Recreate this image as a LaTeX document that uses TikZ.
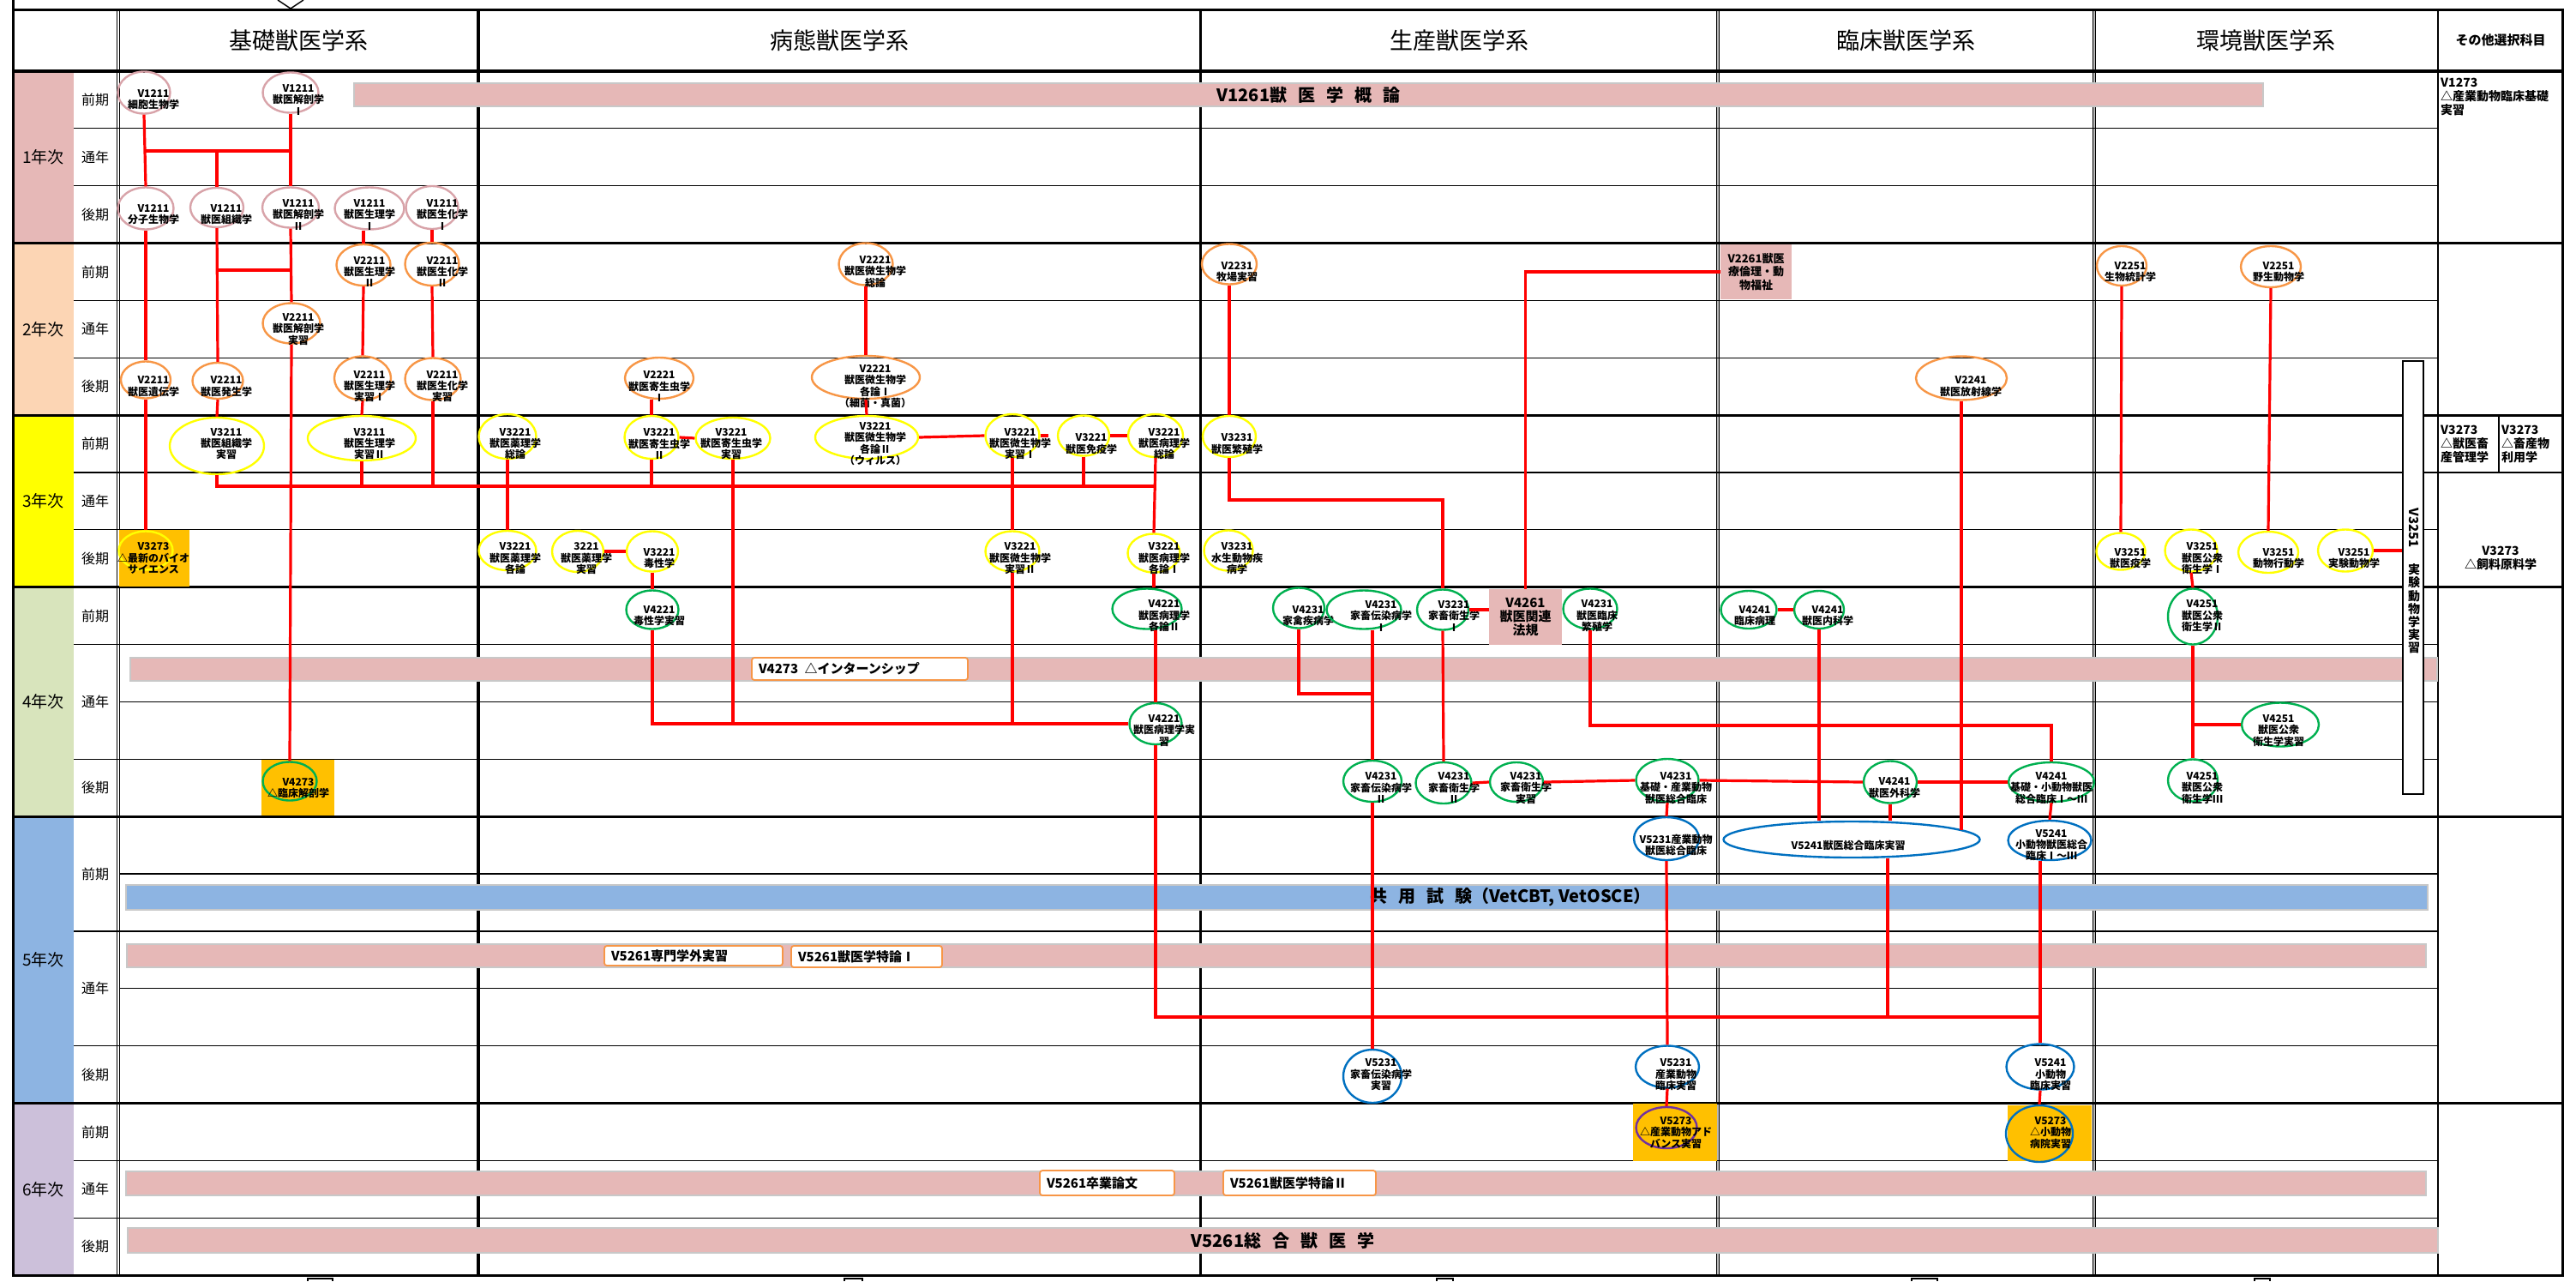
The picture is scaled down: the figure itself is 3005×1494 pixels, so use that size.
\documentclass[tikz,border=0pt]{standalone}
\usepackage{fontspec}
\setmainfont{Noto Sans CJK JP}
\usetikzlibrary{shapes.geometric}

\definecolor{barpink}{HTML}{E6B8B7}
\definecolor{barblue}{HTML}{8DB4E2}
\definecolor{barline}{HTML}{C8C8C8}
\definecolor{yr1}{HTML}{E6B8B7}
\definecolor{yr2}{HTML}{FCD5B4}
\definecolor{yr3}{HTML}{FFFF00}
\definecolor{yr4}{HTML}{D8E4BC}
\definecolor{yr5}{HTML}{8DB4E2}
\definecolor{yr6}{HTML}{CCC0DA}
\definecolor{gold}{HTML}{FFC000}
\definecolor{rosy}{HTML}{D8A3A9}
\definecolor{ora}{HTML}{F79646}
\definecolor{yel}{HTML}{FFFF00}
\definecolor{grn}{HTML}{00B050}
\definecolor{blu}{HTML}{0070C0}
\definecolor{pur}{HTML}{7030A0}

% one course: ring node, then its text centred in the cell
\newcommand{\course}[9]{%
  \node[#6, minimum width=#4, minimum height=#5] (#1) at (#2,#3) {};
  \node[ctext] (#1t) at (#7,#8) {#9};}
\newcommand{\wsp}{\hspace{0.65em}}

\begin{document}
\begin{tikzpicture}[x=1pt, y=-1pt,
  ring/.style={ellipse, draw, line width=2.4, inner sep=0},
  c1/.style={ring, draw=rosy},
  c2/.style={ring, draw=ora},
  c3/.style={ring, draw=yel},
  c4/.style={ring, draw=grn},
  c5/.style={ring, draw=blu},
  c6/.style={ring, draw=pur},
  ctext/.style={font=\fontsize{12}{13.4}\selectfont\bfseries, align=center, inner sep=0},
  link/.style={draw=red, line width=3.2},
  thinrule/.style={line width=1.2},
  thickrule/.style={line width=3.2},
  yearlbl/.style={font=\fontsize{19}{20}\selectfont, inner sep=0},
  semlbl/.style={font=\fontsize{16}{17}\selectfont, inner sep=0},
  headlbl/.style={font=\fontsize{27}{28}\selectfont, inner sep=0},
  bar/.style={fill=barpink, draw=barline, line width=1.2, inner sep=0,
    font=\fontsize{20}{22}\selectfont\bfseries},
  bartext/.style={font=\fontsize{20}{22}\selectfont\bfseries, inner sep=0},
  tag/.style={fill=white, draw=ora, line width=1.8, rounded corners=3,
    inner xsep=8, inner ysep=0, font=\fontsize{15}{16}\selectfont\bfseries},
  pinkbox/.style={fill=barpink, inner sep=0, align=center},
  goldbox/.style={fill=gold, inner sep=0},
  othertext/.style={font=\fontsize{14}{16}\selectfont\bfseries, align=left, inner sep=0}
]
\useasboundingbox (0,0) rectangle (3005,1494);

% year bands and labels
\foreach \a/\b/\c/\t [count=\i] in {0/3/yr1/1年次, 3/6/yr2/2年次, 6/9/yr3/3年次,
    9/13/yr4/4年次, 13/18/yr5/5年次, 18/21/yr6/6年次}{
  \fill[\c] (15,{83+66.86*\a}) rectangle (86,{83+66.86*\b});
  \node[yearlbl] (year\i) at (50.5,{83+33.43*(\a+\b)}) {\t};
}
\foreach \m/\t [count=\i] in {0.5/前期,1.5/通年,2.5/後期,3.5/前期,4.5/通年,5.5/後期,
    6.5/前期,7.5/通年,8.5/後期,9.5/前期,11/通年,12.5/後期,14/前期,16/通年,17.5/後期,
    18.5/前期,19.5/通年,20.5/後期}
  \node[semlbl] (sem\i) at (111,{83+66.86*\m}) {\t};

% column rules
\draw[line width=3.5] (558,11) -- (558,1487);
\draw[line width=3] (1400,11) -- (1400,1487);
\draw[line width=2.5] (2844,11) -- (2844,1487);
\draw[thinrule] (2915,484.6) -- (2915,551);
\foreach \x/\c in {138/white, 2004/gray!55, 2443/gray!55}{
  \draw[line width=4.2] (\x,11) -- (\x,1487);
  \draw[line width=1.8, \c] (\x,11) -- (\x,1487);
}
% row rules
\foreach \k in {1,2,4,5,8,10,12,15,17,19,20}
  \draw[thinrule] (86,{83+66.86*\k}) -- (2844,{83+66.86*\k});
\draw[thinrule] (86,{83+66.86*7}) -- (2989,{83+66.86*7});
\foreach \k in {11,14,16}
  \draw[thinrule] (139,{83+66.86*\k}) -- (2844,{83+66.86*\k});
\foreach \k in {0,3,6,9,13,18}
  \draw[thickrule] (15,{83+66.86*\k}) -- (2989,{83+66.86*\k});
\draw[line width=3] (15,0) -- (15,1487) -- (2989,1487) -- (2989,11) -- (15,11);
\draw[line width=1.5] (324,0) -- (339,10) -- (354,0);
\foreach \a/\b in {359/388, 985/1006, 1676/1695, 2230/2260, 2630/2648}
  \draw[line width=2] (\a,1494) |- (\b,1490.5) -- (\b,1494);

% headers
\node[headlbl] (h1) at (348,47) {基礎獣医学系};
\node[headlbl] (h2) at (979,47) {病態獣医学系};
\node[headlbl] (h3) at (1702,47) {生産獣医学系};
\node[headlbl] (h4) at (2223,47) {臨床獣医学系};
\node[headlbl] (h5) at (2643,47) {環境獣医学系};
\node[font=\fontsize{15}{16}\selectfont\bfseries, inner sep=0] (h6) at (2917,47) {その他選択科目};

% other electives
\node[othertext, anchor=north west] (o1) at (2847,91) {V1273\\△産業動物臨床基礎\\実習};
\node[othertext, anchor=west] (o2) at (2847,518) {V3273\\△獣医畜\\産管理学};
\node[othertext, anchor=west] (o3) at (2918,518) {V3273\\△畜産物\\利用学};
\node[othertext, align=center] (o4) at (2917,651) {V3273\\△飼料原料学};

% bars
\node[bar, minimum width=2227, minimum height=27] (bar1) at (1526.5,110.5)
  {V1261獣\wsp 医\wsp 学\wsp 概\wsp 論};
\node[bar, minimum width=2691, minimum height=27] (bar4) at (1497.5,780.5) {};
\node[bar, fill=barblue, minimum width=2685, minimum height=29] (bar5a) at (1489.5,1046.5) {};
\node[bartext] (bar5at) at (1762,1046) {共\wsp 用\wsp 試\wsp 験（VetCBT, VetOSCE）};
\node[bar, minimum width=2682, minimum height=27] (bar5b) at (1489,1114.5) {};
\node[bar, minimum width=2683, minimum height=28] (bar6a) at (1488.5,1380) {};
\node[bar, minimum width=2695, minimum height=29] (bar6b) at (1496.5,1446.5)
  {V5261総\wsp 合\wsp 獣\wsp 医\wsp 学};
\node[tag, minimum height=26, text width=236] (t1) at (1003,780) {V4273\enspace △インターンシップ};
\node[tag, minimum height=23, text width=192] (t2) at (809,1114.5) {V5261専門学外実習};
\node[tag, minimum height=25, text width=160] (t3) at (1011,1115.5) {V5261獣医学特論Ⅰ};
\node[tag, minimum height=29, text width=141] (t4) at (1291.5,1379.5) {V5261卒業論文};
\node[tag, minimum height=29, text width=162] (t5) at (1516,1379.5) {V5261獣医学特論Ⅱ};

% vertical practical box
\node[draw, fill=white, line width=2, minimum width=24, minimum height=505, inner sep=0] (v3251) at (2815,673.5) {};
\node[font=\fontsize{15}{16}\selectfont\bfseries, rotate=-90, inner sep=0] (v3251a) at (2816,616) {V3251};
\node[font=\fontsize{14}{15.2}\selectfont\bfseries, align=center, inner sep=0] (v3251b) at (2816,710) {実\\験\\動\\物\\学\\実\\習};

% pink and gold boxes
\node[pinkbox, minimum width=83, minimum height=64, font=\fontsize{13}{15.5}\selectfont\bfseries] (p1) at (2048.5,317) {V2261獣医\\療倫理・動\\物福祉};
\node[pinkbox, minimum width=85, minimum height=65, font=\fontsize{15}{16}\selectfont\bfseries] (p2) at (1779.5,719.5) {V4261\\獣医関連\\法規};
\node[goldbox, minimum width=82, minimum height=66] (g1) at (180,651) {};
\node[goldbox, minimum width=85, minimum height=65] (g2) at (347.5,918.5) {};
\node[goldbox, minimum width=98, minimum height=67] (g3) at (1954,1320.5) {};
\node[goldbox, minimum width=98, minimum height=65] (g4) at (2391,1321.5) {};

% 1st year
\course{a1}{168}{108}{61}{49}{c1}{179}{116.4}{V1211\\細胞生物学}
\course{a2}{339}{108}{65}{47}{c1}{348}{116.4}{V1211\\獣医解剖学\\Ⅰ}
\course{a3}{170}{243}{65}{49}{c1}{179}{250.2}{V1211\\分子生物学}
\course{a4}{253}{242}{62}{46}{c1}{264}{250.2}{V1211\\獣医組織学}
\course{a5}{339}{242}{66}{47}{c1}{348}{250.2}{V1211\\獣医解剖学\\Ⅱ}
\course{a6}{431}{243}{81}{49}{c1}{431}{250.2}{V1211\\獣医生理学\\Ⅰ}
\course{a7}{504}{242}{61}{50}{c1}{516}{250.2}{V1211\\獣医生化学\\Ⅰ}
% 2nd year
\course{b1}{424}{309}{63}{48}{c2}{431}{317}{V2211\\獣医生理学\\Ⅱ}
\course{b2}{504}{308}{63}{50}{c2}{516}{317}{V2211\\獣医生化学\\Ⅱ}
\course{b3}{340}{377}{67}{47}{c2}{348}{383.9}{V2211\\獣医解剖学\\実習}
\course{b4}{170}{443}{58}{43}{c2}{179}{450.7}{V2211\\獣医遺伝学}
\course{b5}{254}{444}{59}{42}{c2}{264}{450.7}{V2211\\獣医発生学}
\course{b6}{423}{441}{66}{51}{c2}{431}{450.7}{V2211\\獣医生理学\\実習Ⅰ}
\course{b7}{505}{442}{65}{49}{c2}{516}{450.7}{V2211\\獣医生化学\\実習}
\course{b8}{1010}{308}{63}{49}{c2}{1021}{317}{V2221\\獣医微生物学\\総論}
\course{b9}{1010}{440}{126}{50}{c2}{1021}{450.7}{V2221\\獣医微生物学\\各論Ⅰ\\（細菌・真菌）}
\course{b10}{769}{441}{80}{48}{c2}{769}{450.7}{V2221\\獣医寄生虫学\\Ⅰ}
\course{b11}{1434}{308}{64}{47}{c2}{1443}{317}{V2231\\牧場実習}
\course{b12}{2288}{441}{106}{51}{c2}{2299}{450.7}{V2241\\獣医放射線学}
\course{b13}{2475}{310}{58}{46}{c2}{2485}{317}{V2251\\生物統計学}
\course{b14}{2649}{311}{70}{48}{c2}{2658}{317}{V2251\\野生動物学}
% 3rd year
\course{c1}{253}{520}{110}{66}{c3}{264}{517.6}{V3211\\獣医組織学\\実習}
\course{c2}{422}{511}{126}{52}{c3}{431}{517.6}{V3211\\獣医生理学\\実習Ⅱ}
\course{c3}{592}{509}{67}{52}{c3}{601}{517.6}{V3221\\獣医薬理学\\総論}
\course{c4}{592}{642}{67}{46}{c3}{601}{651.3}{V3221\\獣医薬理学\\各論}
\course{c5}{674}{643}{60}{48}{c3}{684}{651.3}{3221\\獣医薬理学\\実習}
\course{c6}{761}{643}{60}{47}{c3}{769}{651.3}{V3221\\毒性学}
\course{c7}{760}{510}{63}{50}{c3}{769}{517.6}{V3221\\獣医寄生虫学\\Ⅱ}
\course{c8}{855}{511}{87}{48}{c3}{853}{517.6}{V3221\\獣医寄生虫学\\実習}
\course{c9}{1011}{510}{120}{50}{c3}{1021}{517.6}{V3221\\獣医微生物学\\各論Ⅱ\\（ウィルス）}
\course{c10}{1181}{508}{63}{50}{c3}{1190}{517.6}{V3221\\獣医微生物学\\実習Ⅰ}
\course{c11}{1264}{508}{60}{47}{c3}{1273}{517.6}{V3221\\獣医免疫学}
\course{c12}{1348}{508}{64}{50}{c3}{1358}{517.6}{V3221\\獣医病理学\\総論}
\course{c13}{1434}{509}{62}{48}{c3}{1443}{517.6}{V3231\\獣医繁殖学}
\course{c14}{1181}{643}{63}{47}{c3}{1190}{651.3}{V3221\\獣医微生物学\\実習Ⅱ}
\course{c15}{1346}{645}{61}{45}{c3}{1358}{651.3}{V3221\\獣医病理学\\各論Ⅰ}
\course{c16}{1433}{642}{57}{47}{c3}{1443}{651.3}{V3231\\水生動物疾\\病学}
\course{c17}{2474}{643}{57}{43}{c3}{2485}{651.3}{V3251\\獣医疫学}
\course{c18}{2556}{642}{61}{49}{c3}{2569}{651.3}{V3251\\獣医公衆\\衛生学Ⅰ}
\course{c19}{2646}{644}{70}{48}{c3}{2658}{651.3}{V3251\\動物行動学}
\course{c20}{2736}{642}{64}{49}{c3}{2746}{651.3}{V3251\\実験動物学}
\course{c21}{170}{642}{63}{45}{c3}{179}{651.3}{V3273\\△最新のバイオ\\サイエンス}
% 4th year
\course{d1}{761}{711}{61}{45}{c4}{769}{718.2}{V4221\\毒性学実習}
\course{d2}{1338}{710}{81}{47}{c4}{1358}{718.2}{V4221\\獣医病理学\\各論Ⅱ}
\course{d3}{1348}{844}{61}{48}{c4}{1358}{851.9}{V4221\\獣医病理学実\\習}
\course{d4}{2558}{719}{58}{65}{c4}{2569}{718.2}{V4251\\獣医公衆\\衛生学Ⅱ}
\course{d5}{2660}{845}{90}{51}{c4}{2658}{851.9}{V4251\\獣医公衆\\衛生学実習}
\course{d6}{2558}{910}{58}{49}{c4}{2569}{918.8}{V4251\\獣医公衆\\衛生学Ⅲ}
\course{d7}{1515}{709}{60}{47}{c4}{1526}{718.2}{V4231\\家禽疾病学}
\course{d8}{1591}{711}{87}{45}{c4}{1611}{718.2}{V4231\\家畜伝染病学\\Ⅰ}
\course{d9}{1683}{711}{60}{47}{c4}{1696}{718.2}{V3231\\家畜衛生学\\Ⅰ}
\course{d10}{1855}{710}{63}{47}{c4}{1863}{718.2}{V4231\\獣医臨床\\繁殖学}
\course{d11}{2040}{711}{65}{44}{c4}{2047}{718.2}{V4241\\臨床病理}
\course{d12}{2122}{711}{58}{44}{c4}{2132}{718.2}{V4241\\獣医内科学}
\course{d13}{1601}{911}{68}{48}{c4}{1611}{918.8}{V4231\\家畜伝染病学\\Ⅱ}
\course{d14}{1684}{913}{65}{48}{c4}{1696}{918.8}{V4231\\家畜衛生学\\Ⅱ}
\course{d15}{1769}{912}{62}{46}{c4}{1780}{918.8}{V4231\\家畜衛生学\\実習}
\course{d16}{1945}{910}{73}{50}{c4}{1955}{918.8}{V4231\\基礎・産業動物\\獣医総合臨床}
\course{d17}{2205}{912}{62}{49}{c4}{2210}{918.8}{V4241\\獣医外科学}
\course{d18}{2393}{912}{100}{46}{c4}{2393}{918.8}{V4241\\基礎・小動物獣医\\総合臨床Ⅰ～Ⅲ}
\course{d19}{338}{911}{63}{45}{c4}{348}{918.8}{V4273\\△臨床解剖学}
% 5th and 6th year
\course{e1}{1944}{978}{76}{50}{c5}{1955}{985.6}{V5231産業動物\\獣医総合臨床}
\course{e2}{2160}{979}{299}{42}{c5}{2156}{985.6}{V5241獣医総合臨床実習}
\course{e3}{2391}{980}{97}{46}{c5}{2393}{985.6}{V5241\\小動物獣医総合\\臨床Ⅰ～Ⅲ}
\course{e4}{1601}{1255}{68}{62}{c5}{1611}{1253.1}{V5231\\家畜伝染病学\\実習}
\course{e5}{1945}{1244}{74}{49}{c5}{1955}{1253.1}{V5231\\産業動物\\臨床実習}
\course{e6}{2380}{1244}{79}{53}{c5}{2392}{1253.1}{V5241\\小動物\\臨床実習}
\course{f1}{1944}{1315}{71}{48}{c6}{1955}{1321}{V5273\\△産業動物アド\\バンス実習}
\course{f2}{2379}{1322}{78}{66}{c5}{2392}{1321}{V5273\\△小動物\\病院実習}

% connectors, 1st-2nd year
\draw[link] (a1.south) -- (a3.north);
\draw[link] (a2.south) -- (a5.north);
\draw[link] (a1.south |- 0,176) -- (a2.south |- 0,176);
\draw[link] (a4.north) -- (a4.north |- 0,176);
\draw[link] (a3.south) -- (b4.north);
\draw[link] (a4.south) -- (b5.north);
\draw[link] (a4.south |- 0,315) -- (a5.south |- 0,315);
\draw[link] (a5.south) -- (b3.north);
\draw[link] (b3.south) -- (d19.north);
\draw[link] (b1.north |- a6.south) -- (b1.north);
\draw[link] (b1.south) -- (b6.north);
\draw[link] (b6.south) -- (c2.north);
\draw[link] (a7.south) -- (b2.north);
\draw[link] (b2.south) -- (b7.north);
\draw[link] (b4.south) -- (c21.north);
\draw[link] (b5.south) -- (c1.north);
\draw[link] (b8.south) -- (b9.north);
\draw[link] (b9.south) -- (c9.north);
\draw[link] (c7.north |- b10.south) -- (c7.north);
\draw[link] (b11.south) -- (c13.north);
\draw[link] (b13.south) -- (c17.north);
\draw[link] (b14.south) -- (c19.north);
% 3rd year
\draw[link] (c1.south) |- (c12.south |- 0,567);
\draw[link] (b7.south) -- (b7.south |- 0,567);
\draw[link] (c2.south) -- (c2.south |- 0,567);
\draw[link] (c7.south) -- (c7.south |- 0,567);
\draw[link] (c11.south) -- (c11.south |- 0,567);
\draw[link] (c12.south) -- (c15.north);
\draw[link] (c3.south) -- (c4.north);
\draw[link] (c5.east) -- (c6.west);
\draw[link] (c6.south) -- (d1.north);
\draw[link] (c7.east) -- (c8.west);
\draw[link] (c9.east) -- (c10.west);
\draw[link] (c10.east) -- ++(9,0);
\draw[link] (c11.east) -- (c12.west);
\draw[link] (c10.south) -- (c14.north);
\draw[link] (c13.south) |- (d9.north |- 0,583) -- (d9.north);
\draw[link] (c18.south) -- (d4.north);
\draw[link] (c20.east) -- (c20.east -| v3251.west);
% 4th year
\draw[link] (d1.south) |- (d3.west);
\draw[link] (c8.south) -- (c8.south |- d3.west);
\draw[link] (c14.south) -- (c14.south |- d3.west);
\draw[link] (c15.south) -- (c15.south |- d2.north);
\draw[link] (d3.north |- d2.south) -- (d3.north);
\draw[link] (d3.south) |- (e6.north |- 0,1186);
\draw[link] (d13.north |- d8.south) -- (d13.north);
\draw[link] (d7.south) |- (d13.north |- 0,809);
\draw[link] (d13.south) -- (e4.north);
\draw[link] (d9.south) -- (d14.north);
\draw[link] (d9.east) -- (d9.east -| p2.west);
\draw[link] (p1.west) -| (p2.north);
\draw[link] (d10.south) |- (d18.north |- 0,846) -- (d18.north);
\draw[link] (d11.east) -- (d12.west);
\draw[link] (d12.south) -- (d12.south |- e2.north);
\draw[link] (d14.east) -- (d15.west);
\draw[link] (d15.east) -- (d16.west);
\draw[link] (d16.east) -- (d17.west);
\draw[link] (d17.east) -- (d18.west);
\draw[link] (d16.south) -- (e1.north);
\draw[link] (d17.south) -- (d17.south |- e2.north);
\draw[link] (d18.south) -- (e3.north);
\draw[link] (b12.south) -- (b12.south |- e2.5);
\draw[link] (d4.south) -- (d6.north);
\draw[link] (d5.west) -- (d5.west -| d4.south);
% 5th-6th year
\draw[link] (e1.south) -- (e5.north);
\draw[link] ([xshift=42pt]e2.south) -- ([xshift=42pt]e2.south |- 0,1186);
\draw[link] (e6.north |- e3.south) -- (e6.north);
\draw[link] (e5.south) -- (f1.north);
\draw[link] (e6.south) -- (f2.north);
\end{tikzpicture}
\end{document}
